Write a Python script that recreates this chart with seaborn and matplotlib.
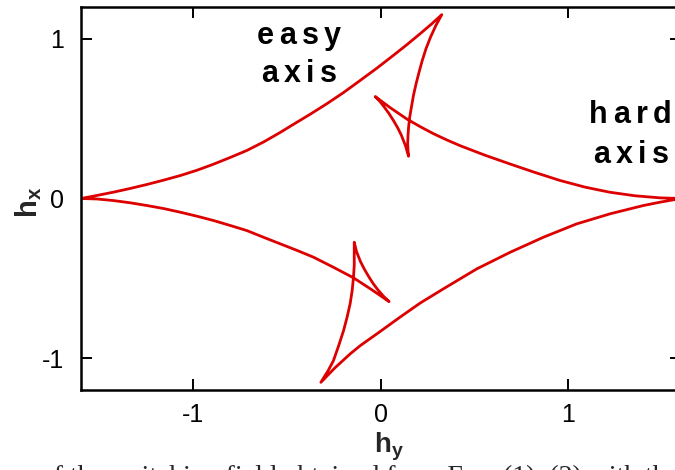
import matplotlib
matplotlib.use("Agg")
import matplotlib.pyplot as plt
import pandas as pd
import seaborn as sns

# Switching-field boundary (h_y, h_x), traced once around as a closed path.
# left cusp -> upper cusp
arc1_hy = [-1.600, -1.515, -1.426, -1.337, -1.248, -1.159, -1.070, -0.981, -0.893, -0.804,
           -0.715, -0.626, -0.537, -0.466, -0.377, -0.288, -0.199, -0.110, -0.021, 0.067,
           0.139, 0.210, 0.272, 0.325]
arc1_hx = [0.000, 0.019, 0.040, 0.063, 0.088, 0.115, 0.144, 0.177, 0.215, 0.257,
           0.301, 0.354, 0.414, 0.465, 0.528, 0.594, 0.664, 0.740, 0.817, 0.897,
           0.964, 1.033, 1.095, 1.152]
# upper cusp -> inner cusp
arc2_hy = [0.294, 0.265, 0.241, 0.221, 0.204, 0.188, 0.174, 0.163, 0.154, 0.148, 0.145, 0.143, 0.145, 0.148]
arc2_hx = [1.085, 1.011, 0.939, 0.865, 0.792, 0.719, 0.646, 0.572, 0.510, 0.447, 0.395, 0.343, 0.301, 0.265]
# inner cusp -> small upper-left cusp
arc3_hy = [0.131, 0.110, 0.089, 0.067, 0.043, 0.019, -0.005, -0.030]
arc3_hx = [0.332, 0.395, 0.445, 0.489, 0.533, 0.572, 0.608, 0.639]
# small cusp -> right cusp
arc4_hy = [0.050, 0.139, 0.210, 0.281, 0.352, 0.423, 0.556, 0.690, 0.823, 0.956, 1.090, 1.223, 1.356, 1.490, 1.600]
arc4_hx = [0.569, 0.498, 0.450, 0.406, 0.367, 0.331, 0.271, 0.216, 0.163, 0.113, 0.071, 0.039, 0.017, 0.004, 0.000]
# right cusp -> lower cusp
arc5_hy = [1.490, 1.401, 1.223, 1.045, 0.867, 0.690, 0.512, 0.334, 0.210, 0.103, -0.021, -0.110, -0.164, -0.244, -0.320]
arc5_hx = [-0.023, -0.044, -0.096, -0.159, -0.243, -0.337, -0.441, -0.566, -0.655, -0.743, -0.848, -0.922, -0.974, -1.060, -1.152]
# lower cusp -> inner cusp
arc6_hy = [-0.281, -0.253, -0.225, -0.199, -0.180, -0.164, -0.153, -0.146, -0.142, -0.142, -0.142]
arc6_hx = [-1.078, -1.016, -0.922, -0.828, -0.743, -0.660, -0.577, -0.493, -0.420, -0.347, -0.274]
# inner cusp -> small lower-right cusp
arc7_hy = [-0.130, -0.109, -0.087, -0.065, -0.041, -0.016, 0.012, 0.044]
arc7_hx = [-0.332, -0.395, -0.445, -0.489, -0.533, -0.572, -0.610, -0.646]
# small cusp -> back to the left cusp
arc8_hy = [-0.048, -0.146, -0.253, -0.359, -0.448, -0.537, -0.626, -0.715, -0.804, -0.893,
           -0.981, -1.070, -1.159, -1.248, -1.337, -1.426, -1.515, -1.600]
arc8_hx = [-0.572, -0.497, -0.431, -0.368, -0.325, -0.284, -0.243, -0.201, -0.169, -0.138,
           -0.111, -0.086, -0.063, -0.044, -0.027, -0.013, -0.003, 0.000]

tick_values = [-1, 0, 1]
tick_labels = ["-1", "0", "1"]

hy = arc1_hy + arc2_hy + arc3_hy + arc4_hy + arc5_hy + arc6_hy + arc7_hy + arc8_hy
hx = arc1_hx + arc2_hx + arc3_hx + arc4_hx + arc5_hx + arc6_hx + arc7_hx + arc8_hx
curve = pd.DataFrame({"step": range(len(hy)), "hy": hy, "hx": hx})

sns.set_style("ticks")
plt.rcParams["font.family"] = ["Liberation Sans", "DejaVu Sans"]
plt.rcParams["mathtext.fontset"] = "custom"
plt.rcParams["mathtext.rm"] = "Liberation Sans"
plt.rcParams["mathtext.bf"] = "Liberation Sans:bold"

fig = plt.figure(figsize=(6.75, 4.7), dpi=100)
ax = fig.add_axes([81 / 675, 1 - 390 / 470, 599.7 / 675, 383 / 470])

sns.lineplot(data=curve, x="hy", y="hx", sort=False, estimator=None,
             color="#dd0000", linewidth=2.0, ax=ax,
             solid_joinstyle="round", solid_capstyle="round")

ax.set_xlim(-1.6, 1.6)
ax.set_ylim(-1.2, 1.2)
ax.set_xticks(tick_values)
ax.set_xticklabels(tick_labels)
ax.set_yticks(tick_values)
ax.set_yticklabels(tick_labels)
ax.tick_params(direction="in", length=8, width=1.4, top=True, right=True,
               labelsize=18, colors="black")
ax.tick_params(axis="x", pad=9)
ax.tick_params(axis="y", pad=12)
for sp in ax.spines.values():
    sp.set_linewidth(1.8)
    sp.set_color("black")

ax.set_xlabel(r"$\mathbf{h_y}$", fontsize=20)
ax.set_ylabel(r"$\mathbf{h_x}$", fontsize=21)
ax.xaxis.set_label_coords(0.513, -0.105)
ax.yaxis.set_label_coords(-0.062, 0.49)


def spaced_word(ax, word, x, y, gap_pt, size):
    """Bold word centred at (x, y) with extra space between letters."""
    renderer = ax.figure.canvas.get_renderer()
    widths = []
    for ch in word:
        t = ax.text(0, 0, ch, fontsize=size, fontweight="bold")
        widths.append(t.get_window_extent(renderer).width * 72 / ax.figure.dpi)
        t.remove()
    off = -(sum(widths) + gap_pt * (len(word) - 1)) / 2
    for ch, w in zip(word, widths):
        ax.annotate(ch, (x, y), xytext=(off, 0), textcoords="offset points",
                    fontsize=size, fontweight="bold", ha="left", va="baseline",
                    color="black")
        off += w + gap_pt


spaced_word(ax, "easy", -0.438, 0.970, 4.0, 22)
spaced_word(ax, "axis", -0.436, 0.729, 4.0, 22)
spaced_word(ax, "hard", 1.332, 0.472, 4.0, 22)
spaced_word(ax, "axis", 1.335, 0.224, 4.0, 22)

# running caption line below the panel (only its upper edge falls inside the figure)
fig.text(40 / 675, 1 - 484 / 470, "of the switching field obtained from Eqs. (1)\u2013(2) with the",
         family=["Liberation Serif", "DejaVu Serif"], fontsize=20, va="baseline", ha="left")

fig.savefig("out.png", dpi=100)
